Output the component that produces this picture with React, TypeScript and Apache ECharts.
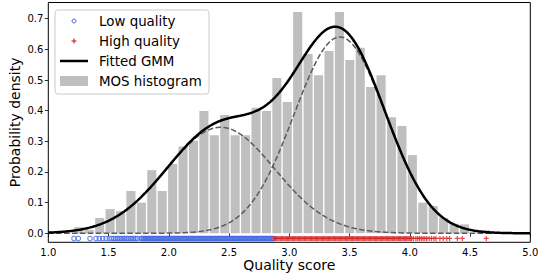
import React, { useEffect, useRef } from "react";
import * as echarts from "echarts";

// ---- data ----
const histStart = 1.21;
const binWidth = 0.0865;
const histDensity = [
  0.020, 0.011, 0.050, 0.079, 0.072, 0.138, 0.100, 0.206, 0.138, 0.226,
  0.283, 0.302, 0.399, 0.320, 0.386, 0.320, 0.320, 0.410, 0.399, 0.507,
  0.428, 0.722, 0.585, 0.516, 0.595, 0.722, 0.565, 0.605, 0.477, 0.516,
  0.379, 0.350, 0.255, 0.100, 0.089, 0.050, 0.031, 0.029, 0.000, 0.010,
];

const gmmMeans = [2.43, 3.42];
const gmmStds = [0.45, 0.38];
const gmmWeights = [0.39, 0.61];

const pointLevel = -0.017;

const lowQuality = [
  1.213, 1.249, 1.346, 1.396, 1.423, 1.451, 1.479, 1.506, 1.526, 1.545,
  1.56, 1.575, 1.59, 1.605, 1.62, 1.635, 1.65, 1.665, 1.68, 1.695, 1.71, 1.725, 1.74,
  1.77, 1.78, 1.79, 1.8, 1.81, 1.82, 1.83, 1.84, 1.85, 1.86, 1.87, 1.88, 1.89, 1.9,
  1.91, 1.92, 1.93, 1.94, 1.95, 1.96, 1.97, 1.98, 1.99, 2.0, 2.01, 2.02, 2.03, 2.04,
  2.05, 2.06, 2.07, 2.08, 2.09, 2.1, 2.11, 2.12, 2.13, 2.14, 2.15, 2.16, 2.17, 2.18,
  2.19, 2.2, 2.21, 2.22, 2.23, 2.24, 2.25, 2.26, 2.27, 2.28, 2.29, 2.3, 2.31, 2.32,
  2.33, 2.34, 2.35, 2.36, 2.37, 2.38, 2.39, 2.4, 2.41, 2.42, 2.43, 2.44, 2.45, 2.46,
  2.47, 2.48, 2.49, 2.5, 2.51, 2.52, 2.53, 2.54, 2.55, 2.56, 2.57, 2.58, 2.59, 2.6,
  2.61, 2.62, 2.63, 2.64, 2.65, 2.66, 2.67, 2.68, 2.69, 2.7, 2.71, 2.72, 2.73, 2.74,
  2.75, 2.76, 2.77, 2.78, 2.79, 2.8, 2.81, 2.82, 2.83, 2.84, 2.85, 2.86, 2.868,
];

const highQuality = [
  2.875, 2.885, 2.895, 2.905, 2.915, 2.925, 2.935, 2.945, 2.955, 2.965, 2.975, 2.985,
  2.995, 3.005, 3.015, 3.025, 3.035, 3.045, 3.055, 3.065, 3.075, 3.085, 3.095, 3.105,
  3.115, 3.125, 3.135, 3.145, 3.155, 3.165, 3.175, 3.185, 3.195, 3.205, 3.215, 3.225,
  3.235, 3.245, 3.255, 3.265, 3.275, 3.285, 3.295, 3.305, 3.315, 3.325, 3.335, 3.345,
  3.355, 3.365, 3.375, 3.385, 3.395, 3.405, 3.415, 3.425, 3.435, 3.445, 3.455, 3.465,
  3.475, 3.485, 3.495, 3.505, 3.515, 3.525, 3.535, 3.545, 3.555, 3.565, 3.575, 3.585,
  3.595, 3.605, 3.615, 3.625, 3.635, 3.645, 3.655, 3.665, 3.675, 3.685, 3.695, 3.705,
  3.715, 3.725, 3.735, 3.745, 3.755, 3.765, 3.775, 3.785, 3.795, 3.805, 3.815, 3.825,
  3.835, 3.845, 3.855, 3.865, 3.875, 3.885, 3.895, 3.905, 3.915, 3.925, 3.935, 3.945,
  3.955, 3.965, 3.975, 3.985, 3.995, 4.005,
  4.015, 4.03, 4.05, 4.065, 4.08, 4.095, 4.11, 4.125, 4.14, 4.16, 4.18, 4.2,
  4.217, 4.25, 4.278, 4.306, 4.33, 4.394, 4.436, 4.635,
];

const xTicks = [1.0, 1.5, 2.0, 2.5, 3.0, 3.5, 4.0, 4.5, 5.0];
const yTicks = [0.0, 0.1, 0.2, 0.3, 0.4, 0.5, 0.6, 0.7];

const legendLabels = ["Low quality", "High quality", "Fitted GMM", "MOS histogram"];

// ---- styling ----
const FONT = "DejaVu Sans";
const BLUE = "#4169e1";
const RED = "#d62728";
const BAR = "#bfbfbf";
const DASH = "#5a5a5a";
const PLUS = "path://M1.5,0H2.5V1.5H4V2.5H2.5V4H1.5V2.5H0V1.5H1.5Z";

function gauss(x: number, k: number) {
  const s = gmmStds[k];
  const z = (x - gmmMeans[k]) / s;
  return (gmmWeights[k] / (Math.sqrt(2 * Math.PI) * s)) * Math.exp(-0.5 * z * z);
}

export default function App() {
  const ref = useRef<HTMLDivElement>(null);
  useEffect(() => {
    document.body.style.margin = "0";
    if (!ref.current) return;
    const chart = echarts.init(ref.current, undefined, { renderer: "svg" });

    const xMin = xTicks[0];
    const xMax = xTicks[xTicks.length - 1];
    const grid: number[] = [];
    for (let i = 0; i <= 400; i++) grid.push(xMin + ((xMax - xMin) * i) / 400);
    const comp1 = grid.map((x) => [x, gauss(x, 0)]);
    const comp2 = grid.map((x) => [x, gauss(x, 1)]);
    const total = grid.map((x) => [x, gauss(x, 0) + gauss(x, 1)]);

    const histData = histDensity.map((h, i) => [
      histStart + i * binWidth,
      histStart + (i + 1) * binWidth,
      h,
    ]);

    const lx = 60, lw = 28, rowY = [21, 41, 61, 81], tx = 99;

    chart.setOption({
      animation: false,
      grid: {
        left: 48.3,
        right: 7.7,
        top: 2.5,
        bottom: 32.7,
        show: true,
        borderColor: "#000",
        borderWidth: 1,
        backgroundColor: "transparent",
        containLabel: false,
        outerBoundsMode: "none",
      },
      xAxis: {
        type: "value",
        min: xMin,
        max: xMax,
        interval: 0.5,
        axisLine: { show: false },
        axisTick: { show: true, length: 3.5, lineStyle: { color: "#000", width: 0.8 } },
        axisLabel: {
          formatter: (v: number) => v.toFixed(1),
          fontSize: 10,
          color: "#000",
          fontFamily: FONT,
          margin: 5,
          showMinLabel: true,
          showMaxLabel: true,
        },
        splitLine: { show: false },
        name: "Quality score",
        nameLocation: "middle",
        nameGap: 16,
        nameMoveOverlap: false,
        nameTextStyle: { fontSize: 14, fontFamily: FONT, color: "#000" },
      },
      yAxis: {
        type: "value",
        min: -0.0294,
        max: 0.753,
        axisLine: { show: false },
        axisTick: {
          show: true,
          length: 3.5,
          customValues: yTicks,
          lineStyle: { color: "#000", width: 0.8 },
        },
        axisLabel: {
          customValues: yTicks,
          formatter: (v: number) => v.toFixed(1),
          fontSize: 10,
          color: "#000",
          fontFamily: FONT,
          margin: 5,
        },
        splitLine: { show: false },
        name: "Probability density",
        nameLocation: "middle",
        nameGap: 26,
        nameRotate: 90,
        nameMoveOverlap: false,
        nameTextStyle: { fontSize: 14, fontFamily: FONT, color: "#000" },
      },
      series: [
        {
          type: "custom",
          name: legendLabels[3],
          silent: true,
          z: 1,
          data: histData,
          encode: { x: [0, 1], y: 2 },
          renderItem: (_p: any, api: any) => {
            const x0 = api.value(0), x1 = api.value(1), h = api.value(2);
            const a = api.coord([x0, h]);
            const b = api.coord([x1, 0]);
            const gap = (b[0] - a[0]) * 0.065;
            return {
              type: "rect",
              shape: { x: a[0] + gap, y: a[1], width: b[0] - a[0] - 2 * gap, height: b[1] - a[1] },
              style: { fill: BAR },
            };
          },
        },
        {
          type: "line",
          silent: true,
          z: 2,
          data: comp1,
          showSymbol: false,
          symbol: "none",
          lineStyle: { color: DASH, width: 1.5, type: [5.5, 2.4] },
        },
        {
          type: "line",
          silent: true,
          z: 2,
          data: comp2,
          showSymbol: false,
          symbol: "none",
          lineStyle: { color: DASH, width: 1.5, type: [5.5, 2.4] },
        },
        {
          type: "line",
          name: legendLabels[2],
          silent: true,
          z: 3,
          data: total,
          showSymbol: false,
          symbol: "none",
          lineStyle: { color: "#000", width: 2.5 },
        },
        {
          type: "scatter",
          name: legendLabels[0],
          silent: true,
          z: 4,
          data: lowQuality.map((v) => [v, pointLevel]),
          symbol: "circle",
          symbolSize: 4.5,
          itemStyle: { color: "transparent", borderColor: BLUE, borderWidth: 1.1 },
        },
        {
          type: "scatter",
          name: legendLabels[1],
          silent: true,
          z: 4,
          data: highQuality.map((v) => [v, pointLevel]),
          symbol: PLUS,
          symbolSize: 5,
          itemStyle: { color: RED },
        },
      ],
      graphic: [
        {
          type: "rect",
          z: 100,
          shape: { x: 55, y: 10, width: 154, height: 84, r: 3 },
          style: { fill: "rgba(255,255,255,0.8)", stroke: "#cccccc", lineWidth: 1 },
        },
        {
          type: "circle",
          z: 101,
          shape: { cx: lx + lw / 2, cy: rowY[0], r: 2 },
          style: { fill: "none", stroke: BLUE, lineWidth: 1 },
        },
        {
          type: "rect",
          z: 101,
          shape: { x: lx + lw / 2 - 2.5, y: rowY[1] - 0.6, width: 5, height: 1.2 },
          style: { fill: RED },
        },
        {
          type: "rect",
          z: 101,
          shape: { x: lx + lw / 2 - 0.6, y: rowY[1] - 2.5, width: 1.2, height: 5 },
          style: { fill: RED },
        },
        {
          type: "line",
          z: 101,
          shape: { x1: lx, y1: rowY[2], x2: lx + lw, y2: rowY[2] },
          style: { stroke: "#000", lineWidth: 2.5 },
        },
        {
          type: "rect",
          z: 101,
          shape: { x: lx, y: rowY[3] - 5, width: lw, height: 10 },
          style: { fill: BAR },
        },
        ...legendLabels.map((t, i) => ({
          type: "text",
          z: 101,
          x: tx,
          y: rowY[i],
          style: {
            text: t,
            fontSize: 13.4,
            fontFamily: FONT,
            fill: "#000",
            verticalAlign: "middle",
            align: "left",
          },
        })),
      ],
    });
    return () => chart.dispose();
  }, []);
  return <div ref={ref} style={{ width: 538, height: 275, position: "absolute", left: 0, top: 0 }} />;
}
